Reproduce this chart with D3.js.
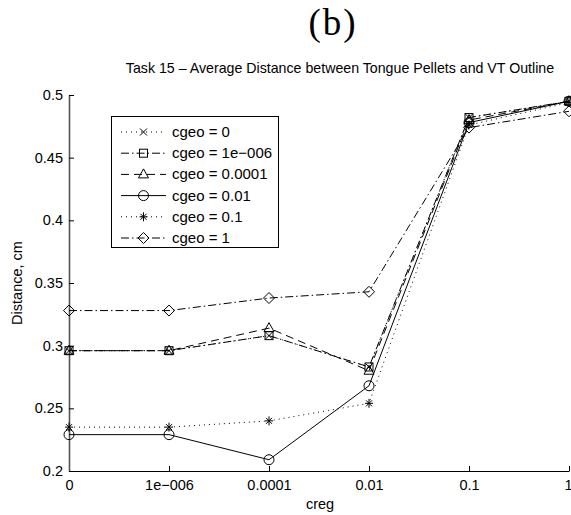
<!DOCTYPE html>
<html><head><meta charset="utf-8">
<script src="https://cdn.jsdelivr.net/npm/d3@7"></script>
<style>body{margin:0;background:#fff}</style>
</head><body>
<svg id="c" width="571" height="515"></svg>
<script>
const categories = ["0", "1e\u2212006", "0.0001", "0.01", "0.1", "1"];
const yTicks = [0.2, 0.25, 0.3, 0.35, 0.4, 0.45, 0.5];
const seriesNames = ["cgeo = 0", "cgeo = 1e\u2212006", "cgeo = 0.0001", "cgeo = 0.01", "cgeo = 0.1", "cgeo = 1"];
const cgeo0    = [0.296, 0.296, 0.308, 0.283, 0.482, 0.495];
const cgeo1e6  = [0.296, 0.296, 0.308, 0.283, 0.482, 0.495];
const cgeo1e4  = [0.296, 0.296, 0.314, 0.280, 0.480, 0.495];
const cgeo001  = [0.229, 0.229, 0.209, 0.268, 0.478, 0.495];
const cgeo01   = [0.235, 0.235, 0.240, 0.254, 0.476, 0.494];
const cgeo1    = [0.328, 0.328, 0.338, 0.343, 0.474, 0.487];
const seriesValues = [cgeo0, cgeo1e6, cgeo1e4, cgeo001, cgeo01, cgeo1];
const dashes = ["1,4", "8,3,1.5,3", "8,5", null, "1,4", "8,3,1.5,3"];
const markers = ["x", "square", "triangle", "circle", "star", "diamond"];

const svg = d3.select("#c");
const L = 69, R = 569, T = 95, B = 471;
const x = d3.scalePoint().domain(categories).range([L, R]);
const y = d3.scaleLinear().domain([0.2, 0.5]).range([B, T]);
const font = "'Liberation Sans', Arial, sans-serif";
const fs = 14.5;

svg.append("text").attr("x", 333).attr("y", 35).attr("text-anchor", "middle")
  .attr("font-family", "'Liberation Serif', serif").attr("font-size", 37)
  .attr("letter-spacing", 2).text("(b)");
svg.append("text").attr("x", 340).attr("y", 73).attr("text-anchor", "middle")
  .attr("font-family", font).attr("font-size", 14.2).text("Task 15 \u2013 Average Distance between Tongue Pellets and VT Outline");

// axes
const xAxis = d3.axisBottom(x).tickSizeInner(-5).tickSizeOuter(0).tickPadding(9);
const gx = svg.append("g").attr("transform", `translate(0,${B})`).call(xAxis);
gx.selectAll("text").attr("font-family", font).attr("font-size", fs).attr("fill", "#000");
gx.selectAll("line,path").attr("stroke", "#000");
gx.selectAll(".tick").filter(d => d === "1").select("text").attr("text-anchor", "end").attr("dx", 3);
const yAxis = d3.axisLeft(y).tickValues(yTicks).tickFormat(d3.format("")).tickSizeInner(-5).tickSizeOuter(0).tickPadding(6);
const gy = svg.append("g").attr("transform", `translate(${L},0)`).call(yAxis);
gy.selectAll("text").attr("font-family", font).attr("font-size", fs).attr("fill", "#000");
gy.selectAll("line").attr("stroke", "#000");
gy.select("path.domain").attr("stroke", "#555").attr("stroke-width", 1.6);

svg.append("text").attr("x", 320).attr("y", 509).attr("text-anchor", "middle")
  .attr("font-family", font).attr("font-size", fs).text("creg");
svg.append("text").attr("transform", `translate(22,${(T+B)/2}) rotate(-90)`).attr("text-anchor", "middle")
  .attr("font-family", font).attr("font-size", fs).text("Distance, cm");

function drawMarker(g, type, cx, cy) {
  let el;
  if (type === "x") {
    el = g.append("path").attr("d", `M${cx-3.5},${cy-3.5}L${cx+3.5},${cy+3.5}M${cx-3.5},${cy+3.5}L${cx+3.5},${cy-3.5}`);
  } else if (type === "square") {
    el = g.append("rect").attr("x", cx-4).attr("y", cy-4).attr("width", 8).attr("height", 8);
  } else if (type === "triangle") {
    el = g.append("path").attr("d", `M${cx},${cy-5.5}L${cx+5},${cy+3.5}L${cx-5},${cy+3.5}Z`);
  } else if (type === "circle") {
    el = g.append("circle").attr("cx", cx).attr("cy", cy).attr("r", 5);
  } else if (type === "star") {
    el = g.append("path").attr("d", `M${cx-4},${cy}L${cx+4},${cy}M${cx},${cy-4.5}L${cx},${cy+4.5}M${cx-3},${cy-3}L${cx+3},${cy+3}M${cx-3},${cy+3}L${cx+3},${cy-3}`);
  } else if (type === "diamond") {
    el = g.append("path").attr("d", `M${cx},${cy-5.5}L${cx+5.5},${cy}L${cx},${cy+5.5}L${cx-5.5},${cy}Z`);
  }
  el.attr("stroke", "#000").attr("fill", "none").attr("stroke-width", 1);
}

const line = d3.line().x((d, i) => x(categories[i])).y(d => y(d));
seriesValues.forEach((vals, si) => {
  const g = svg.append("g");
  g.append("path").attr("d", line(vals)).attr("fill", "none").attr("stroke", "#000")
    .attr("stroke-width", 1).attr("stroke-dasharray", dashes[si]);
  vals.forEach((v, i) => drawMarker(g, markers[si], x(categories[i]), y(v)));
});

// legend
const lg = svg.append("g");
lg.append("rect").attr("x", 111.5).attr("y", 116.5).attr("width", 167).attr("height", 131)
  .attr("fill", "#fff").attr("stroke", "#000").attr("stroke-width", 1);
seriesNames.forEach((name, i) => {
  const yy = 132 + i * 21.2;
  lg.append("line").attr("x1", 121).attr("x2", 166).attr("y1", yy).attr("y2", yy)
    .attr("stroke", "#000").attr("stroke-width", 1).attr("stroke-dasharray", dashes[i]);
  drawMarker(lg, markers[i], 143.5, yy);
  lg.append("text").attr("x", 172).attr("y", yy + 5).attr("font-family", font)
    .attr("font-size", 15).text(name);
});
</script>
</body></html>
